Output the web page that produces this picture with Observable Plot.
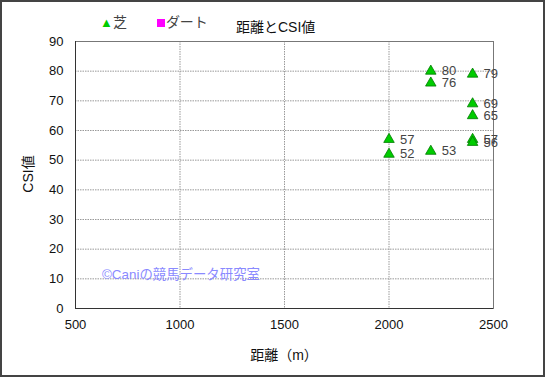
<!DOCTYPE html>
<html><head><meta charset="utf-8">
<script src="https://cdn.jsdelivr.net/npm/d3@7"></script>
<script src="https://cdn.jsdelivr.net/npm/@observablehq/plot@0.6"></script>
<style>
html,body{margin:0;padding:0;background:#fff;}
#wrap{position:relative;width:545px;height:377px;overflow:hidden;font-family:"Liberation Sans","DejaVu Sans","Noto Sans CJK JP",sans-serif;}
#border{position:absolute;left:0;top:0;width:541px;height:373px;border:2px solid #444;pointer-events:none;}
.ov{position:absolute;white-space:nowrap;color:#222;font-family:"Liberation Sans","Noto Sans CJK JP",sans-serif;}
</style></head>
<body><div id="wrap"></div>
<script>
const distances = [2000, 2000, 2200, 2200, 2200, 2400, 2400, 2400, 2400, 2400];
const csiValues = [57, 52, 80, 76, 53, 79, 69, 65, 57, 56];
const surfaces = ["芝","芝","芝","芝","芝","芝","芝","芝","芝","芝"];
const xTicks = [500, 1000, 1500, 2000, 2500];
const yTicks = [0, 10, 20, 30, 40, 50, 60, 70, 80, 90];
const legendNames = ["芝", "ダート"];
const titleText = "距離とCSI値";
const xLabel = "距離（m）";
const yLabel = "CSI値";
const watermark = "©Caniの競馬データ研究室";

const data = distances.map((d, i) => ({dist: d, csi: csiValues[i], surface: surfaces[i]}));

const chart = Plot.plot({
  width: 545, height: 377,
  marginLeft: 75, marginRight: 52, marginTop: 41, marginBottom: 69,
  style: {fontFamily: '"Liberation Sans","Noto Sans CJK JP",sans-serif', fontSize: "12px", color: "#222", background: "transparent"},
  x: {domain: [500, 2500], ticks: xTicks, label: null},
  y: {domain: [0, 90], ticks: yTicks, label: null},
  marks: [
    Plot.gridX(xTicks.filter(t => t > 500 && t < 2500), {stroke: "#999", strokeOpacity: 1, strokeDasharray: "1.5,1"}),
    Plot.gridY(yTicks.filter(t => t > 0 && t < 90), {stroke: "#999", strokeOpacity: 1, strokeDasharray: "1.5,1"}),
    Plot.frame({stroke: "#777"}),
    Plot.ruleX([500], {stroke: "#333"}),
    Plot.ruleY([0], {stroke: "#333"}),
    Plot.axisX(xTicks, {tickSize: 0, tickPadding: 11, fontSize: 13, fill: "#111", tickFormat: d => String(d)}),
    Plot.axisY(yTicks, {tickSize: 0, tickPadding: 12, fontSize: 13, fill: "#111"}),
    Plot.dot(data, {x: "dist", y: "csi", symbol: "triangle", r: 3.9, fill: "#00cc00", stroke: "#007a00", strokeWidth: 0.8}),
    Plot.text(data, {x: "dist", y: "csi", text: d => String(d.csi), textAnchor: "start", dx: 11, dy: 0, fontSize: 13, fill: "#444"})
  ]
});
const wrap = document.getElementById("wrap");
chart.style.position = "absolute"; chart.style.left = "0"; chart.style.top = "0";
wrap.appendChild(chart);

function ov(text, css) { const d = document.createElement("div"); d.className = "ov"; d.textContent = text; Object.assign(d.style, css); wrap.appendChild(d); return d; }
ov(titleText, {left: "236px", top: "16px", fontSize: "14px", color: "#111"});
ov(xLabel, {left: "0", width: "568px", textAlign: "center", top: "344px", fontSize: "14px", color: "#111"});
ov(yLabel, {left: "27px", top: "174px", fontSize: "14px", color: "#111", transform: "translate(-50%,-50%) rotate(-90deg)"});
ov(watermark, {left: "102px", top: "263px", fontSize: "13.4px", color: "#8a8aff"});
const leg = document.createElement("div");
leg.className = "ov";
Object.assign(leg.style, {left: "100px", top: "11px", fontSize: "14px", color: "#444"});
leg.innerHTML = `<span style="color:#00cc00;font-size:13px">▲</span>${legendNames[0]}<span style="display:inline-block;width:30px"></span><span style="display:inline-block;width:8px;height:8px;background:#ff00ff;margin-right:1px"></span>${legendNames[1]}`;
wrap.appendChild(leg);
const b = document.createElement("div"); b.id = "border"; wrap.appendChild(b);
</script></body></html>
